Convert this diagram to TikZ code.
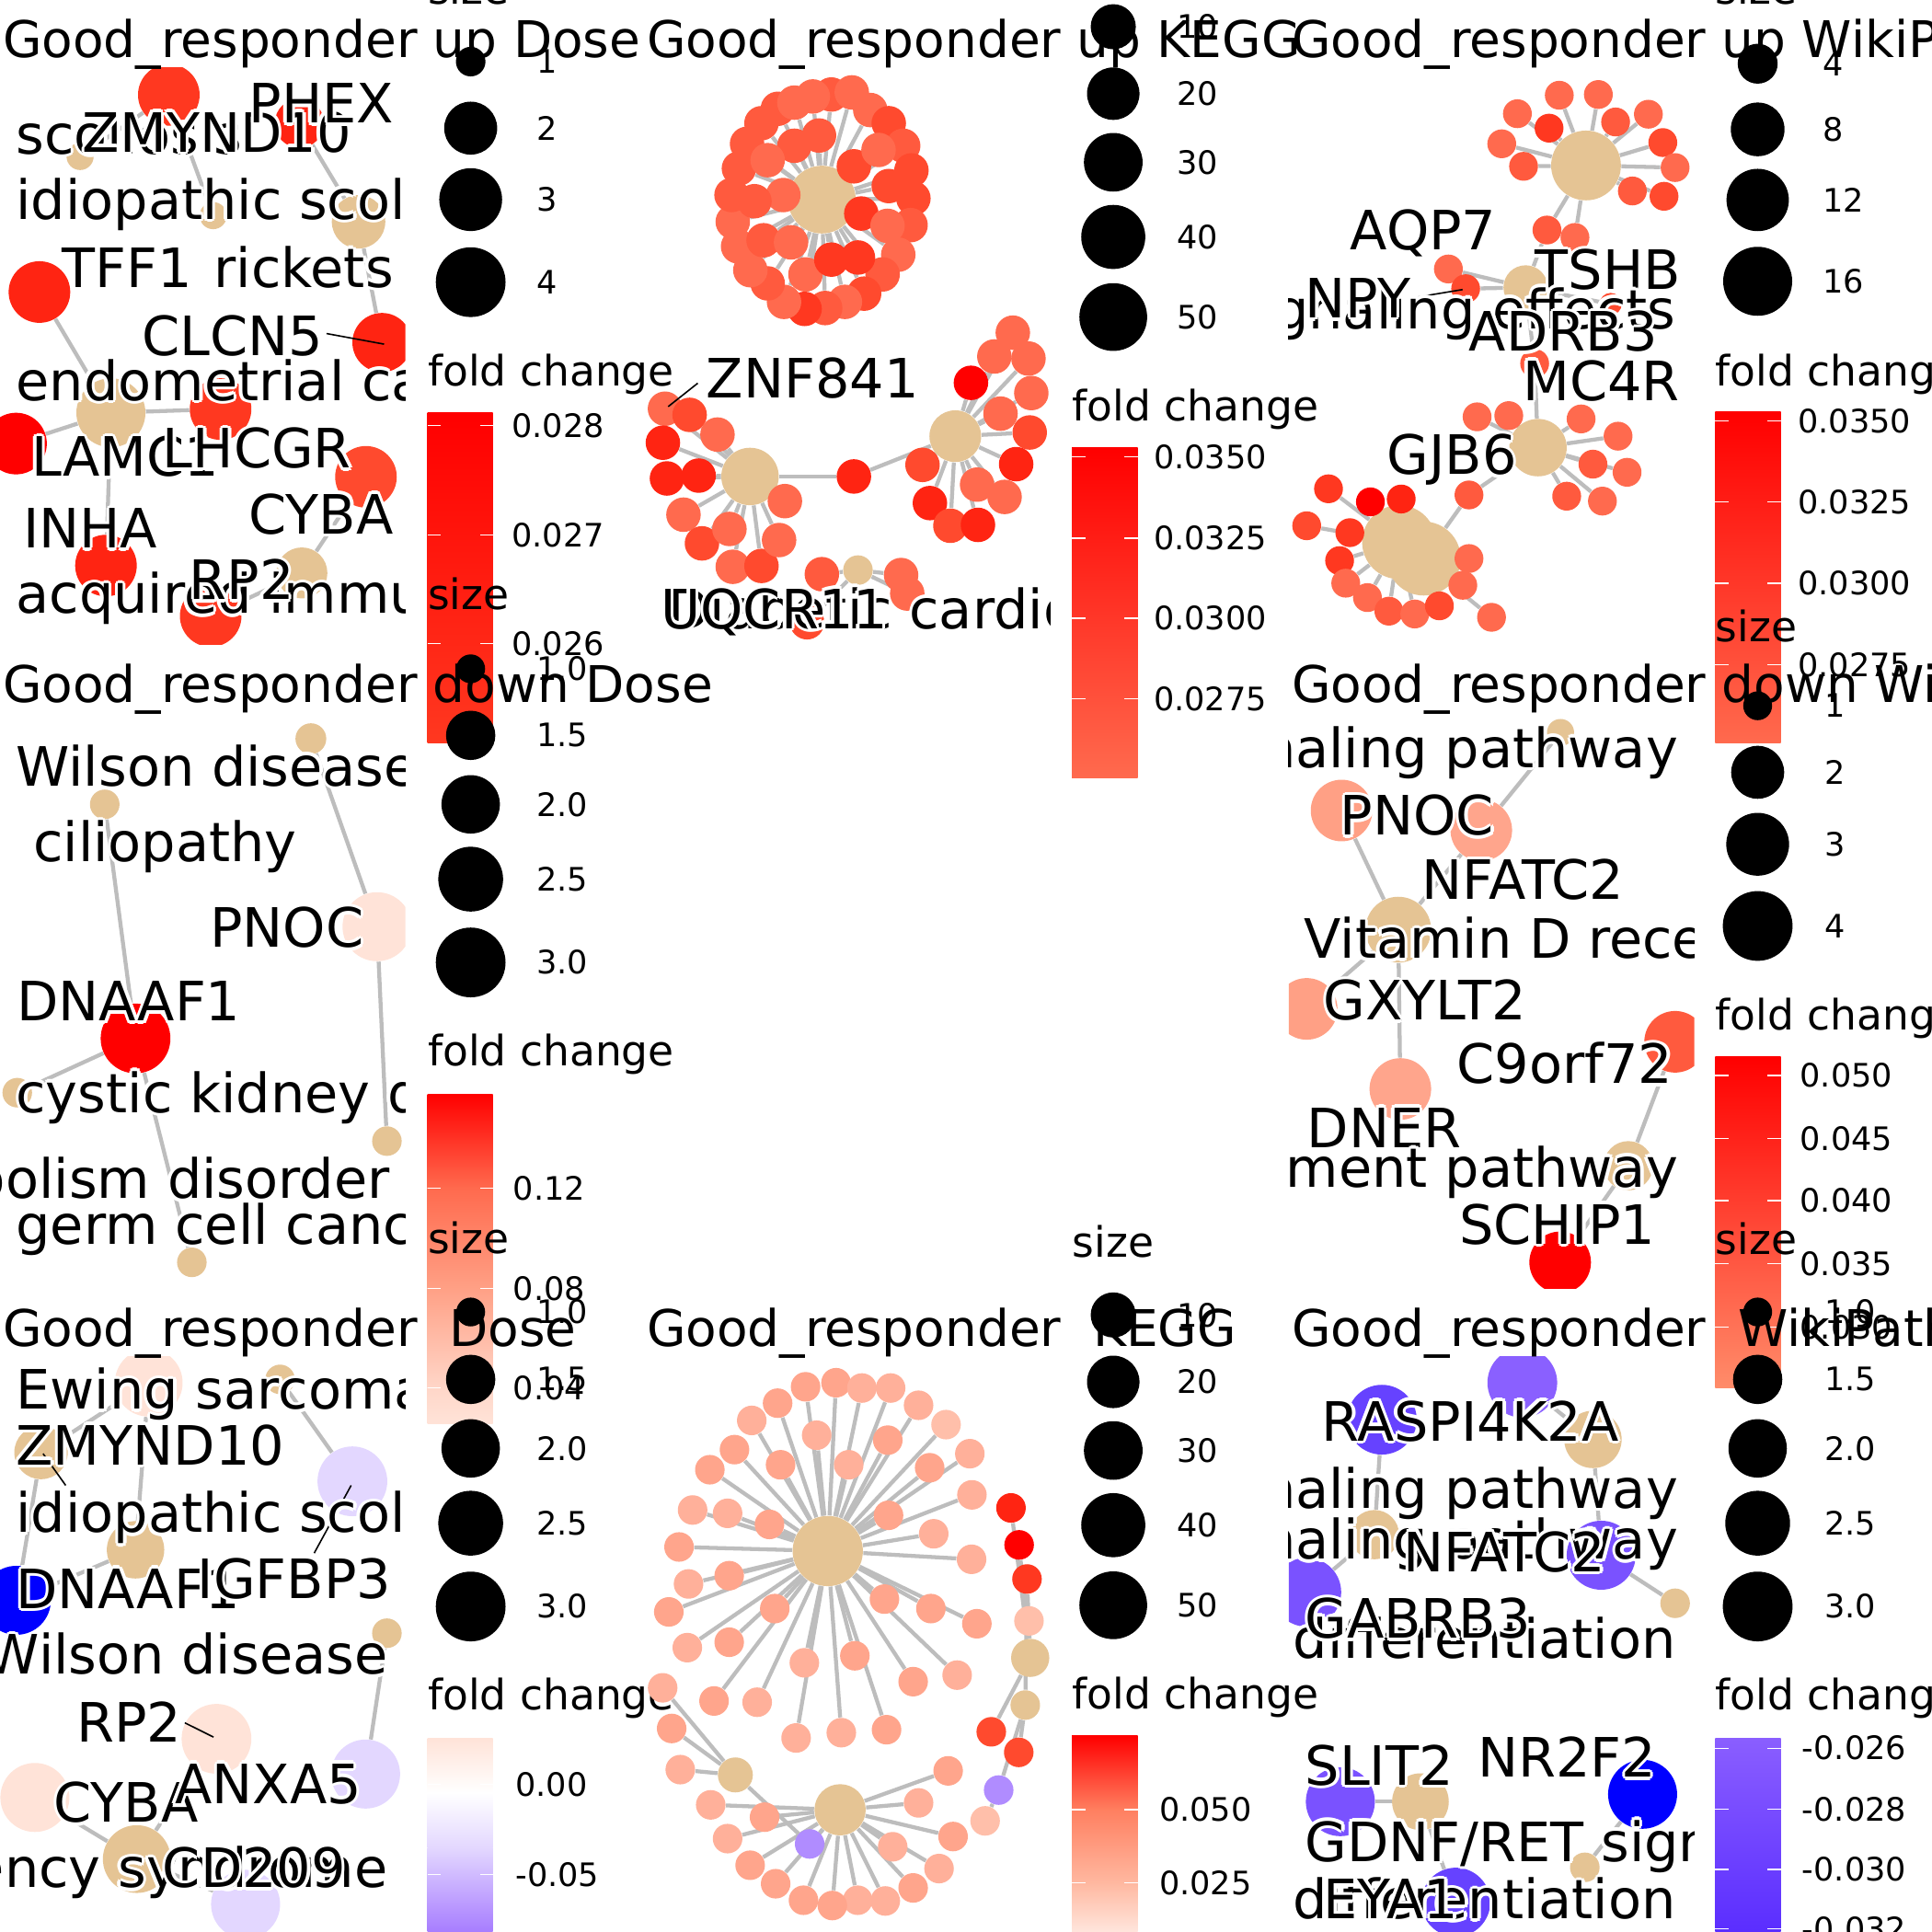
\documentclass[tikz,border=0pt]{standalone}
\usepackage{fontspec}
\setmainfont{DejaVu Sans}
\pgfdeclarelayer{back}
\pgfsetlayers{back,main}
\definecolor{beige}{HTML}{E5C494}
\definecolor{edgec}{HTML}{BDBDBD}
\definecolor{rr}{HTML}{FF0000}
\definecolor{te}{HTML}{FF2412}
\definecolor{td}{HTML}{FF3820}
\definecolor{tc}{HTML}{FF4A2E}
\definecolor{tb}{HTML}{FF5A3E}
\definecolor{ta}{HTML}{FF6A4E}
\definecolor{sa}{HTML}{FFB09A}
\definecolor{sb}{HTML}{FFA58C}
\definecolor{sc}{HTML}{FFBFAA}
\definecolor{pk}{HTML}{FFE3D8}
\definecolor{sal}{HTML}{FFA085}
\definecolor{lav}{HTML}{E3D7FF}
\definecolor{pu}{HTML}{B08CFF}
\definecolor{vA}{HTML}{8A60FF}
\definecolor{vB}{HTML}{7A52FF}
\definecolor{vC}{HTML}{6642FF}
\definecolor{bl}{HTML}{0000FF}
\newcount\nc
\newcommand\gn[5]{\node[gnode,fill=#5,minimum size=#4pt] (#1) at (#2,#3) {};}
\newcommand\ed[2]{\begin{pgfonlayer}{back}\draw[edge] (#1) -- (#2);\end{pgfonlayer}}
\newcommand\lab[4][base west]{%
  \foreach \hx/\hy in {1/0,-1/0,0/1,0/-1,0.7/0.7,-0.7/0.7,0.7/-0.7,-0.7/-0.7}{%
    \node[lbl,anchor=#1,text=white,xshift=\hx*1.3pt,yshift=\hy*1.3pt] at (#2,#3) {#4};}%
  \global\advance\nc by 1\relax
  \node[lbl,anchor=#1] (lab\the\nc) at (#2,#3) {#4};}
\newcommand\ttl[3]{\global\advance\nc by 1\relax\node[ttlst] (tt\the\nc) at (#1,#2) {#3};}
\newcommand\lgt[3]{\global\advance\nc by 1\relax\node[lgtst] (lg\the\nc) at (#1,#2) {#3};}
\newcommand\szc[5]{\global\advance\nc by 1\relax\node[sizec,minimum size=#3pt] (sc\the\nc) at (#1,#2) {};\node[lgn] (sl\the\nc) at (#4,#2) {#5};}
\newcommand\tk[4]{\draw[white,line width=0.5pt] (#1,#2) -- ++(10.7,0) (#1+53.3,#2) -- ++(-10.7,0);\global\advance\nc by 1\relax\node[lgn] (tk\the\nc) at (#3,#2) {#4};}
\begin{document}
\begin{tikzpicture}[x=0.5pt,y=-0.5pt,
  gnode/.style={circle,inner sep=0pt,draw=none},
  edge/.style={draw=edgec,line width=1.6pt},
  lbl/.style={font=\fontsize{22}{24}\selectfont,inner sep=0pt},
  ttlst/.style={font=\fontsize{20.5}{24}\selectfont,inner sep=0pt,anchor=base west},
  lgtst/.style={font=\fontsize{17}{20}\selectfont,inner sep=0pt,anchor=base west},
  lgn/.style={font=\fontsize{13.1}{15}\selectfont,inner sep=0pt,anchor=west},
  leader/.style={draw=black,line width=0.6pt},
  sizec/.style={circle,fill=black,inner sep=0pt,draw=none}]
\begin{pgfonlayer}{back}\fill[white] (0,0) rectangle (1568,1568);\end{pgfonlayer}
\useasboundingbox (0,0) rectangle (1568,1568);

% ================= PANEL 1 : up Dose =================
\begin{scope}
\clip (0,55) rectangle (329,523);
\gn{zm}{137}{77}{25}{td}
\gn{phex}{243}{100}{20}{te}
\gn{sco}{65}{127}{11}{beige}
\gn{idi}{173}{175}{11}{beige}
\gn{rick}{291}{180}{21.7}{beige}
\gn{clcn}{310}{278}{24}{te}
\gn{tff}{32}{237}{25}{te}
\gn{endo}{90}{335}{28}{beige}
\gn{lhcgr}{179}{332}{25}{td}
\gn{lamc}{13}{360}{25}{rr}
\gn{inha}{86}{459}{25}{te}
\gn{cyba}{297}{387}{25}{tc}
\gn{acq}{245}{465}{20.7}{beige}
\gn{rp}{171}{500}{25}{td}
\ed{zm}{sco}\ed{zm}{idi}\ed{phex}{rick}\ed{rick}{clcn}\ed{tff}{endo}
\ed{endo}{lhcgr}\ed{endo}{lamc}\ed{endo}{inha}\ed{cyba}{acq}\ed{acq}{rp}
\draw[leader] (265,270.7) -- (311.7,279.3);
\lab{12.7}{125}{scoliosis}
\lab{66.7}{123.3}{ZMYND10}
\lab{201.7}{100}{PHEX}
\lab{12.7}{178}{idiopathic scoliosis}
\lab{50}{233.3}{TFF1}
\lab{173.3}{233.3}{rickets}
\lab{115}{288.3}{CLCN5}
\lab{12.7}{325}{endometrial cancer}
\lab{25}{386.7}{LAMC1}
\lab{131.7}{380}{LHCGR}
\lab{18.3}{445}{INHA}
\lab{201.7}{433.3}{CYBA}
\lab{12.7}{498}{acquired immunodeficiency syndrome}
\lab{153.3}{486.7}{RP2}
\end{scope}
\ttl{2}{47}{Good\_responder up Dose}
\lgt{347}{3}{size}
\szc{382}{50}{12}{435}{1}
\szc{382}{104}{21.5}{435}{2}
\szc{382}{162}{25.5}{435}{3}
\szc{382}{229}{28.3}{435}{4}
\lgt{347}{313}{fold change}
\shade[top color=rr,bottom color=td] (347,335) rectangle (400,603);
\tk{347}{345.3}{415}{0.028}
\tk{347}{434}{415}{0.027}
\tk{347}{522.5}{415}{0.026}

% ================= PANEL 2 : up KEGG =================
\begin{scope}
\clip (523,55) rectangle (852,523);
\gn{hA}{667}{162}{27.5}{beige}
\foreach \n/\x/\y/\c in {1/674.7/76.7/tb,2/659.7/78.3/ta,3/691.3/75/ta,4/706.3/89.3/ta,5/721.3/100/tc,6/733/118.3/tb,7/739.7/138.3/tc,8/741.3/161/tc,9/739/182.7/tb,10/729/206.7/ta,11/716.3/222.7/tb,12/701.3/238.3/tc,13/685.7/245/ta,14/669.7/250/tb,15/653/250.7/td,16/636.3/245/ta,17/623/230/tb,18/609/219.3/ta,19/599/200/ta,20/594.7/180/ta,21/593.7/158.3/tb,22/599.7/136.7/tb,23/606.3/116.7/tb,24/618/100/tb,25/631.3/88.3/tb,26/644.7/83.3/ta,27/664.7/110/tb,28/644.7/118.3/tb,29/623/130/ta,30/635.7/158.3/ta,31/612.3/163.3/tb,32/619.7/195/tb,33/642/196.7/ta,34/653.7/222.7/ta,35/674.7/210.7/td,36/696.3/209/td,37/699/173.3/td,38/720.3/183.3/ta,39/721.3/151/tc,40/693/135/tc,41/713/121.7/ta}
  {\gn{A\n}{\x}{\y}{14}{\c}\ed{A\n}{hA}}
\gn{hB}{608.7}{386.7}{23.3}{beige}
\foreach \n/\x/\y/\c in {1/539.7/331.7/ta,2/559.7/336.7/tc,3/582.3/352.7/ta,4/538/359.3/te,5/541.3/388.3/te,6/567/386/te,7/554.7/417.7/ta,8/569.7/441/tc,9/592/429.3/ta,10/594.7/460/ta,11/618/459.3/tc,12/632.3/438.3/ta,13/637/406.7/ta}
  {\gn{B\n}{\x}{\y}{14}{\c}\ed{B\n}{hB}}
\gn{hC}{775.3}{354}{21}{beige}
\foreach \n/\x/\y/\c in {1/822/270/ta,2/807/289.3/ta,3/834.7/291/ta,4/837/319/ta,5/788/310.7/rr,6/812/335.7/ta,7/835.7/351/tc,8/824.7/376.7/te,9/748.7/377.3/tc,10/793/393.3/ta,11/815.3/403.3/ta,12/754.7/408.3/te,13/771.3/426.7/tc,14/793.7/426/te}
  {\gn{C\n}{\x}{\y}{14}{\c}\ed{C\n}{hC}}
\gn{mid}{693}{386.7}{14}{te}
\ed{hB}{mid}\ed{mid}{hC}
\gn{hD}{696.3}{462.7}{12}{beige}
\foreach \n/\x/\y/\c in {1/667/466/tb,2/731.3/466.7/ta,3/736.3/481.7/ta,4/655/505/tc}
  {\gn{D\n}{\x}{\y}{14}{\c}\ed{D\n}{hD}}
\draw[leader] (566.3,311) -- (542.3,330);
\lab{573}{323.3}{ZNF841}
\lab{542}{510}{Diabetic cardiomyopathy}
\lab{536}{510}{UQCR11}
\end{scope}
\ttl{524.5}{47}{Good\_responder up KEGG}
\szc{903.5}{21.7}{18.3}{955}{10}
\szc{903.5}{76}{21.3}{955}{20}
\szc{903.5}{131.7}{23.8}{955}{30}
\szc{903.5}{192.3}{26}{955}{40}
\szc{903.5}{257.3}{27.5}{955}{50}
\lgt{870}{341.7}{fold change}
\shade[top color=rr,bottom color=ta] (870,363.3) rectangle (923.3,631);
\tk{870}{370.7}{936}{0.0350}
\tk{870}{436.7}{936}{0.0325}
\tk{870}{501.7}{936}{0.0300}
\tk{870}{567}{936}{0.0275}

% ================= PANEL 3 : up WikiPathways =================
\begin{scope}
\clip (1046,55) rectangle (1375,523);
\gn{tA}{1287.2}{134.3}{28.3}{beige}
\foreach \n/\x/\y/\c in {1/1265.5/77.3/ta,2/1297.2/76.7/ta,3/1231.5/92.3/ta,4/1257.2/104/td,5/1311.2/99/tb,6/1337.8/92.7/ta,7/1218.8/116.7/ta,8/1349.5/115.7/tc,9/1236.5/135/tb,10/1359.5/136/ta,11/1324.8/155/tb,12/1350.5/159.3/tc,13/1255.5/186.7/tb,14/1278.2/192.7/ta}
  {\gn{T\n}{\x}{\y}{11.7}{\c}\ed{T\n}{tA}}
\gn{tM}{1238.2}{233.3}{18}{beige}
\gn{aqp}{1175.5}{218.3}{11.7}{ta}
\gn{npy}{1189.5}{234.3}{11.7}{tc}
\gn{tshb}{1307.2}{246.7}{9}{tc}
\gn{mcr}{1245.5}{295}{11.7}{tb}
\ed{aqp}{tM}\ed{npy}{tM}\ed{tM}{T13}\ed{tM}{tshb}\ed{tM}{mcr}
\gn{tB}{1248.2}{363.3}{23.3}{beige}
\foreach \n/\x/\y/\c in {1/1198.8/338.3/ta,2/1224.5/337.3/ta,3/1283.2/340/ta,4/1313.2/354/ta,5/1292.8/376.7/tb,6/1320.5/383.3/ta,7/1271.5/402.7/tb,8/1300.5/406.7/ta}
  {\gn{U\n}{\x}{\y}{11.7}{\c}\ed{U\n}{tB}}
\ed{mcr}{tB}
\gn{tC}{1135.5}{440}{30}{beige}
\gn{tCb}{1155.5}{453.3}{30}{beige}
\gn{gjb}{1192.2}{401.7}{11.7}{tb}
\ed{gjb}{tB}\ed{gjb}{tCb}
\foreach \n/\x/\y/\c in {1/1078.2/396.7/td,2/1112.2/407.3/rr,3/1137.2/405/te,4/1060.5/426.7/tc,5/1095.5/432.3/td,6/1087.2/455/td,7/1092.2/473.3/ta,8/1109.8/485/ta,9/1127.2/496/tb,10/1148.2/498.3/ta,11/1168.2/491.7/tc,12/1187.2/475/ta,13/1192.2/453.3/ta,14/1210.5/501/ta}
  {\gn{V\n}{\x}{\y}{11.7}{\c}\ed{V\n}{tC}}
\draw[leader] (1147,241.7) -- (1187,235);
\lab{1095.5}{203}{AQP7}
\lab{1245.5}{235}{TSHB}
\lab[base east]{1360.5}{266.7}{signaling effects}
\lab{1059}{258}{NPY}
\lab{1192}{285}{ADRB3}
\lab{1235.5}{325}{MC4R}
\lab{1125.5}{385}{GJB6}
\end{scope}
\ttl{1048}{47}{Good\_responder up WikiPathways}
\lgt{1392}{3}{size}
\szc{1426.5}{51.7}{16.2}{1478.8}{4}
\szc{1426.5}{105}{21.8}{1478.8}{8}
\szc{1426.5}{162.3}{25.3}{1478.8}{12}
\szc{1426.5}{228.3}{28}{1478.8}{16}
\lgt{1392}{313}{fold change}
\shade[top color=rr,bottom color=ta] (1392,334.3) rectangle (1445.3,603);
\tk{1392}{341.7}{1458.8}{0.0350}
\tk{1392}{407.3}{1458.8}{0.0325}
\tk{1392}{473.3}{1458.8}{0.0300}
\tk{1392}{539.5}{1458.8}{0.0275}

% ================= PANEL 4 : down Dose =================
\begin{scope}
\clip (0,578) rectangle (329,1046);
\gn{w1}{252.3}{599.5}{12.5}{beige}
\gn{w2}{85}{652.8}{12}{beige}
\gn{pnoc}{306}{752.1}{28}{pk}
\gn{dn}{110}{842.8}{28.3}{rr}
\gn{c1}{14}{886.8}{12}{beige}
\gn{c2}{314}{926.1}{12}{beige}
\gn{c3}{155.7}{1024.5}{12}{beige}
\ed{w1}{pnoc}\ed{pnoc}{c2}\ed{w2}{dn}\ed{dn}{c1}\ed{dn}{c3}
\lab{12.7}{637.8}{Wilson disease}
\lab{26.7}{699.5}{ciliopathy}
\lab{170}{768.8}{PNOC}
\lab{13.3}{828.5}{DNAAF1}
\lab{12.7}{902.8}{cystic kidney disease}
\lab[base east]{316.7}{972.8}{copper metabolism disorder}
\lab{12.7}{1009.5}{germ cell cancer}
\end{scope}
\ttl{2}{570}{Good\_responder down Dose}
\lgt{347}{495}{size}
\szc{382}{542.8}{11.7}{435}{1.0}
\szc{382}{596.8}{20}{435}{1.5}
\szc{382}{652.8}{23.7}{435}{2.0}
\szc{382}{713.5}{26.3}{435}{2.5}
\szc{382}{781.1}{28.3}{435}{3.0}
\lgt{347}{865}{fold change}
\shade[top color=rr,bottom color=ta] (347,887.8) rectangle (400,964.5);
\shade[top color=ta,bottom color=sal] (347,964.4) rectangle (400,1045.5);
\shade[top color=sal,bottom color={rgb,255:red,255;green,214;blue,200}] (347,1045.4) rectangle (400,1126.2);
\shade[top color={rgb,255:red,255;green,214;blue,200},bottom color=pk] (347,1126.1) rectangle (400,1155.5);
\tk{347}{964.5}{416}{0.12}
\tk{347}{1045.5}{416}{0.08}
\tk{347}{1126.2}{416}{0.04}

% ================= PANEL 6 : down WikiPathways =================
\begin{scope}
\clip (1046,578) rectangle (1375,1046);
\gn{b1}{1266.5}{594.5}{11}{beige}
\gn{pn}{1088.8}{657.8}{25}{sal}
\gn{nf}{1202.2}{673.8}{25}{sb}
\gn{vd}{1134.8}{754.5}{26.7}{beige}
\gn{gx}{1060.5}{818.8}{25}{sal}
\gn{dner}{1136.5}{883.8}{25}{sb}
\gn{c9}{1359.5}{845.5}{25}{tb}
\gn{b2}{1321.5}{946.1}{20}{beige}
\gn{sch}{1266.2}{1024.5}{25}{rr}
\ed{b1}{nf}\ed{pn}{vd}\ed{nf}{vd}\ed{vd}{gx}\ed{vd}{dner}\ed{c9}{b2}\ed{b2}{sch}
\lab[base east]{1362.2}{622.8}{signaling pathway}
\lab{1087.2}{677.8}{PNOC}
\lab{1153.8}{730.2}{NFATC2}
\lab{1058.2}{777.8}{Vitamin D receptor pathway}
\lab{1073.8}{827.8}{GXYLT2}
\lab{1182.2}{879.5}{C9orf72}
\lab{1060.5}{931.1}{DNER}
\lab[base east]{1362.2}{963.5}{development pathway}
\lab{1183.8}{1009.5}{SCHIP1}
\end{scope}
\ttl{1048}{570}{Good\_responder down WikiPathways}
\lgt{1392}{521}{size}
\szc{1426.5}{572.8}{11.7}{1480.5}{1}
\szc{1426.5}{626.8}{21.5}{1480.5}{2}
\szc{1426.5}{685.2}{25.5}{1480.5}{3}
\szc{1426.5}{751.5}{28.3}{1480.5}{4}
\lgt{1392}{835.8}{fold change}
\shade[top color=rr,bottom color={rgb,255:red,255;green,140;blue,106}] (1392,857.8) rectangle (1445.3,1126);
\tk{1392}{872.8}{1460.5}{0.050}
\tk{1392}{923.8}{1460.5}{0.045}
\tk{1392}{974.5}{1460.5}{0.040}
\tk{1392}{1025.5}{1460.5}{0.035}
\tk{1392}{1077.2}{1460.5}{0.030}

% ================= PANEL 7 : Dose =================
\begin{scope}
\clip (0,1101) rectangle (329,1568);
\gn{ew}{120.7}{1122.2}{27.5}{pk}
\gn{s1}{227.3}{1119.5}{12}{beige}
\gn{zz}{33.3}{1178.8}{21.7}{beige}
\gn{id}{110}{1257.8}{23.3}{beige}
\gn{lv1}{286}{1202.2}{28.3}{lav}
\gn{dnb}{13.3}{1298.8}{28}{bl}
\gn{s2}{314}{1325.5}{12}{beige}
\gn{rp2}{175.7}{1411.2}{28.3}{pk}
\gn{anx}{296.7}{1439.8}{28}{lav}
\gn{cyb}{28.3}{1458.8}{28}{pk}
\gn{hub}{111}{1508.8}{27.5}{beige}
\gn{lv2}{199.3}{1545.5}{28}{lav}
\ed{ew}{zz}\ed{s1}{lv1}\ed{zz}{dnb}\ed{id}{ew}\ed{id}{dnb}\ed{s2}{anx}\ed{cyb}{hub}\ed{hub}{rp2}\ed{hub}{lv2}
\draw[leader] (35,1179.8) -- (53.3,1205.5);
\draw[leader] (255,1260.5) -- (285,1205.5);
\draw[leader] (150,1398.2) -- (173.3,1409.8);
\lab{12.7}{1143.8}{Ewing sarcoma}
\lab{12.7}{1188.8}{ZMYND10}
\lab{12.7}{1243.8}{idiopathic scoliosis}
\lab{12.7}{1305.5}{DNAAF1}
\lab{160}{1297.2}{IGFBP3}
\lab[base east]{315}{1358.8}{Wilson disease}
\lab{61.7}{1413.8}{RP2}
\lab{43.3}{1478.8}{CYBA}
\lab{141.7}{1463.8}{ANXA5}
\lab[base east]{315}{1532}{immunodeficiency syndrome}
\lab{131.7}{1532}{CD209}
\end{scope}
\ttl{2}{1093}{Good\_responder\ \ Dose}
\lgt{347}{1017}{size}
\szc{382}{1064.8}{11.7}{435}{1.0}
\szc{382}{1119.5}{20}{435}{1.5}
\szc{382}{1175.5}{23.7}{435}{2.0}
\szc{382}{1236.2}{26.3}{435}{2.5}
\szc{382}{1303.8}{28.3}{435}{3.0}
\lgt{347}{1387.5}{fold change}
\shade[top color=pk,bottom color=white] (347,1410.5) rectangle (400,1455);
\shade[top color=white,bottom color=lav] (347,1454.9) rectangle (400,1500);
\shade[top color=lav,bottom color={rgb,255:red,165;green,122;blue,255}] (347,1499.9) rectangle (400,1570);
\tk{347}{1448.2}{418}{0.00}
\tk{347}{1521.5}{418}{-0.05}

% ================= PANEL 8 : KEGG =================
\begin{scope}
\clip (523,1101) rectangle (852,1568);
\gn{kA}{671.8}{1258.8}{28.5}{beige}
\foreach \n/\x/\y/\c in {1/653.8/1125.5/sb,2/678.5/1122.2/sb,3/699.5/1126.5/sa,4/722.8/1126.5/sa,5/631.1/1138.8/sb,6/745.5/1140.5/sa,7/610.1/1152.8/sa,8/767.8/1156.2/sc,9/662.8/1164.8/sa,10/720.5/1168.8/sb,11/596.1/1176.5/sb,12/787.1/1179.8/sa,13/633.5/1188.8/sb,14/688.8/1188.8/sa,15/754.5/1191.2/sb,16/576.1/1192.8/sb,17/788.8/1213.2/sa,18/562.1/1225.5/sa,19/590.5/1228.2/sa,20/721.1/1229.8/sb,21/624.5/1237.2/sb,22/757.8/1244.8/sa,23/551.1/1255.5/sb,24/788.5/1265.5/sa,25/591.8/1278.8/sb,26/558.8/1285.5/sa,27/717.8/1297.8/sb,28/542.8/1308.2/sb,29/628.8/1305.5/sb,30/755.5/1305.5/sb,31/792.8/1317.8/sb,32/557.8/1337.2/sa,33/591.8/1332.8/sb,34/652.8/1349.5/sa,35/693.8/1343.8/sb,36/776.8/1359.5/sa,37/579.5/1380.5/sb,38/614.5/1381.5/sa,39/741.1/1364.8/sb,40/646.1/1410.5/sa,41/682.8/1406.2/sa,42/719.5/1403.8/sb}
  {\gn{K\n}{\x}{\y}{12}{\c}\ed{K\n}{kA}}
\gn{kB}{681.8}{1468.8}{20.8}{beige}
\foreach \n/\x/\y/\c in {1/769.5/1437.2/sb,2/745.5/1463.2/sa,3/773.5/1490.5/sb,4/762.1/1516.5/sa,5/741.1/1532.2/sb,6/724.5/1498.8/sa,7/718.5/1542.8/sa,8/696.1/1542.2/sa,9/675.5/1546.5/sb,10/652.1/1542.2/sb,11/629.5/1528.8/sb,12/608.8/1513.8/sb,13/590.5/1492.2/sa,14/576.8/1464.8/sa,15/620.5/1474.8/sb}
  {\gn{L\n}{\x}{\y}{12}{\c}\ed{L\n}{kB}}
\gn{kC}{596.8}{1440.5}{14.2}{beige}
\foreach \n/\x/\y/\c in {1/537.8/1369.8/sa,2/545.1/1402.8/sb,3/552.1/1436.2/sa}
  {\gn{M\n}{\x}{\y}{12}{\c}\ed{M\n}{kC}}
\gn{kp}{657.1}{1496.5}{12}{pu}
\ed{kp}{kB}\ed{kp}{kC}
\gn{kD}{836.1}{1345.5}{15.5}{beige}
\gn{kE}{832.1}{1383.8}{12}{beige}
\gn{q1}{820.5}{1223.8}{12}{te}
\gn{q2}{827.1}{1253.8}{12}{rr}
\gn{q3}{833.5}{1281.5}{12}{td}
\gn{q4}{835.1}{1315.5}{12}{sc}
\gn{q5}{804.5}{1405.5}{12}{tc}
\gn{q6}{826.8}{1422.2}{12}{tc}
\gn{q7}{810.5}{1452.8}{12}{pu}
\gn{q8}{799.5}{1477.8}{12}{sc}
\ed{q1}{kD}\ed{q2}{kD}\ed{q3}{kD}\ed{q4}{kD}\ed{q3}{kE}\ed{kD}{q5}\ed{kE}{q6}\ed{kE}{q7}\ed{q7}{q8}
\end{scope}
\ttl{524.5}{1093}{Good\_responder\ \ KEGG}
\lgt{870}{1020}{size}
\szc{903.5}{1067.2}{18.3}{955}{10}
\szc{903.5}{1121.5}{21.3}{955}{20}
\szc{903.5}{1177.2}{23.8}{955}{30}
\szc{903.5}{1237.8}{26}{955}{40}
\szc{903.5}{1302.8}{27.5}{955}{50}
\lgt{870}{1387.2}{fold change}
\shade[top color=rr,bottom color={rgb,255:red,255;green,127;blue,96}] (870,1408.8) rectangle (923.3,1468.8);
\shade[top color={rgb,255:red,255;green,127;blue,96},bottom color={rgb,255:red,255;green,184;blue,160}] (870,1468.7) rectangle (923.3,1528.2);
\shade[top color={rgb,255:red,255;green,184;blue,160},bottom color={rgb,255:red,255;green,232;blue,224}] (870,1528.1) rectangle (923.3,1570);
\tk{870}{1468.8}{940.5}{0.050}
\tk{870}{1528.2}{940.5}{0.025}

% ================= PANEL 9 : WikiPathways =================
\begin{scope}
\clip (1046,1101) rectangle (1375,1568);
\gn{bh1}{1292.8}{1168.2}{23.3}{beige}
\gn{bh2}{1115.5}{1245.5}{20}{beige}
\gn{bh3}{1152.8}{1462.2}{23}{beige}
\gn{bs1}{1359.5}{1301.2}{12}{beige}
\gn{bs2}{1286.2}{1515.5}{12}{beige}
\gn{pu1}{1235.5}{1122.2}{28.3}{vA}
\gn{ras}{1121.5}{1152.2}{28.3}{vC}
\gn{pu2}{1299.5}{1262.2}{28}{vB}
\gn{pu3}{1060.5}{1292.2}{28}{vB}
\gn{slit}{1087.8}{1462.2}{28}{vB}
\gn{nr}{1333.1}{1456.2}{28}{bl}
\gn{eya}{1181.5}{1543.8}{28}{vC}
\ed{ras}{bh2}\ed{pu3}{bh2}\ed{bh1}{pu2}\ed{pu2}{bs1}\ed{slit}{bh3}\ed{bh3}{eya}\ed{nr}{bs2}\ed{pu1}{bh1}
\lab{1072.2}{1169.5}{RASPI4K2A}
\lab[base east]{1362.2}{1223.8}{signaling pathway}
\lab[base east]{1362.2}{1265.5}{signaling pathway}
\lab{1138.8}{1275.5}{NFATC2}
\lab[base east]{1360.5}{1345.5}{differentiation}
\lab{1058.8}{1329.5}{GABRB3}
\lab{1058.8}{1448.8}{SLIT2}
\lab{1198.8}{1442.2}{NR2F2}
\lab{1058.8}{1510.5}{GDNF/RET signaling pathway}
\lab[base east]{1360.5}{1557.2}{differentiation}
\lab{1073.8}{1557.2}{EYA1}
\end{scope}
\ttl{1048}{1093}{Good\_responder\ \ WikiPathways}
\lgt{1392}{1017.8}{size}
\szc{1426.5}{1064.8}{11.7}{1480.5}{1.0}
\szc{1426.5}{1119.5}{20}{1480.5}{1.5}
\szc{1426.5}{1175.5}{23.7}{1480.5}{2.0}
\szc{1426.5}{1236.2}{26.3}{1480.5}{2.5}
\szc{1426.5}{1303.8}{28.3}{1480.5}{3.0}
\lgt{1392}{1387.5}{fold change}
\shade[top color={rgb,255:red,138;green,94;blue,255},bottom color={rgb,255:red,90;green,45;blue,255}] (1392,1410.5) rectangle (1445.3,1570);
\tk{1392}{1418.8}{1462.2}{-0.026}
\tk{1392}{1468.2}{1462.2}{-0.028}
\tk{1392}{1517.2}{1462.2}{-0.030}
\tk{1392}{1565.5}{1462.2}{-0.032}
\end{tikzpicture}
\end{document}
